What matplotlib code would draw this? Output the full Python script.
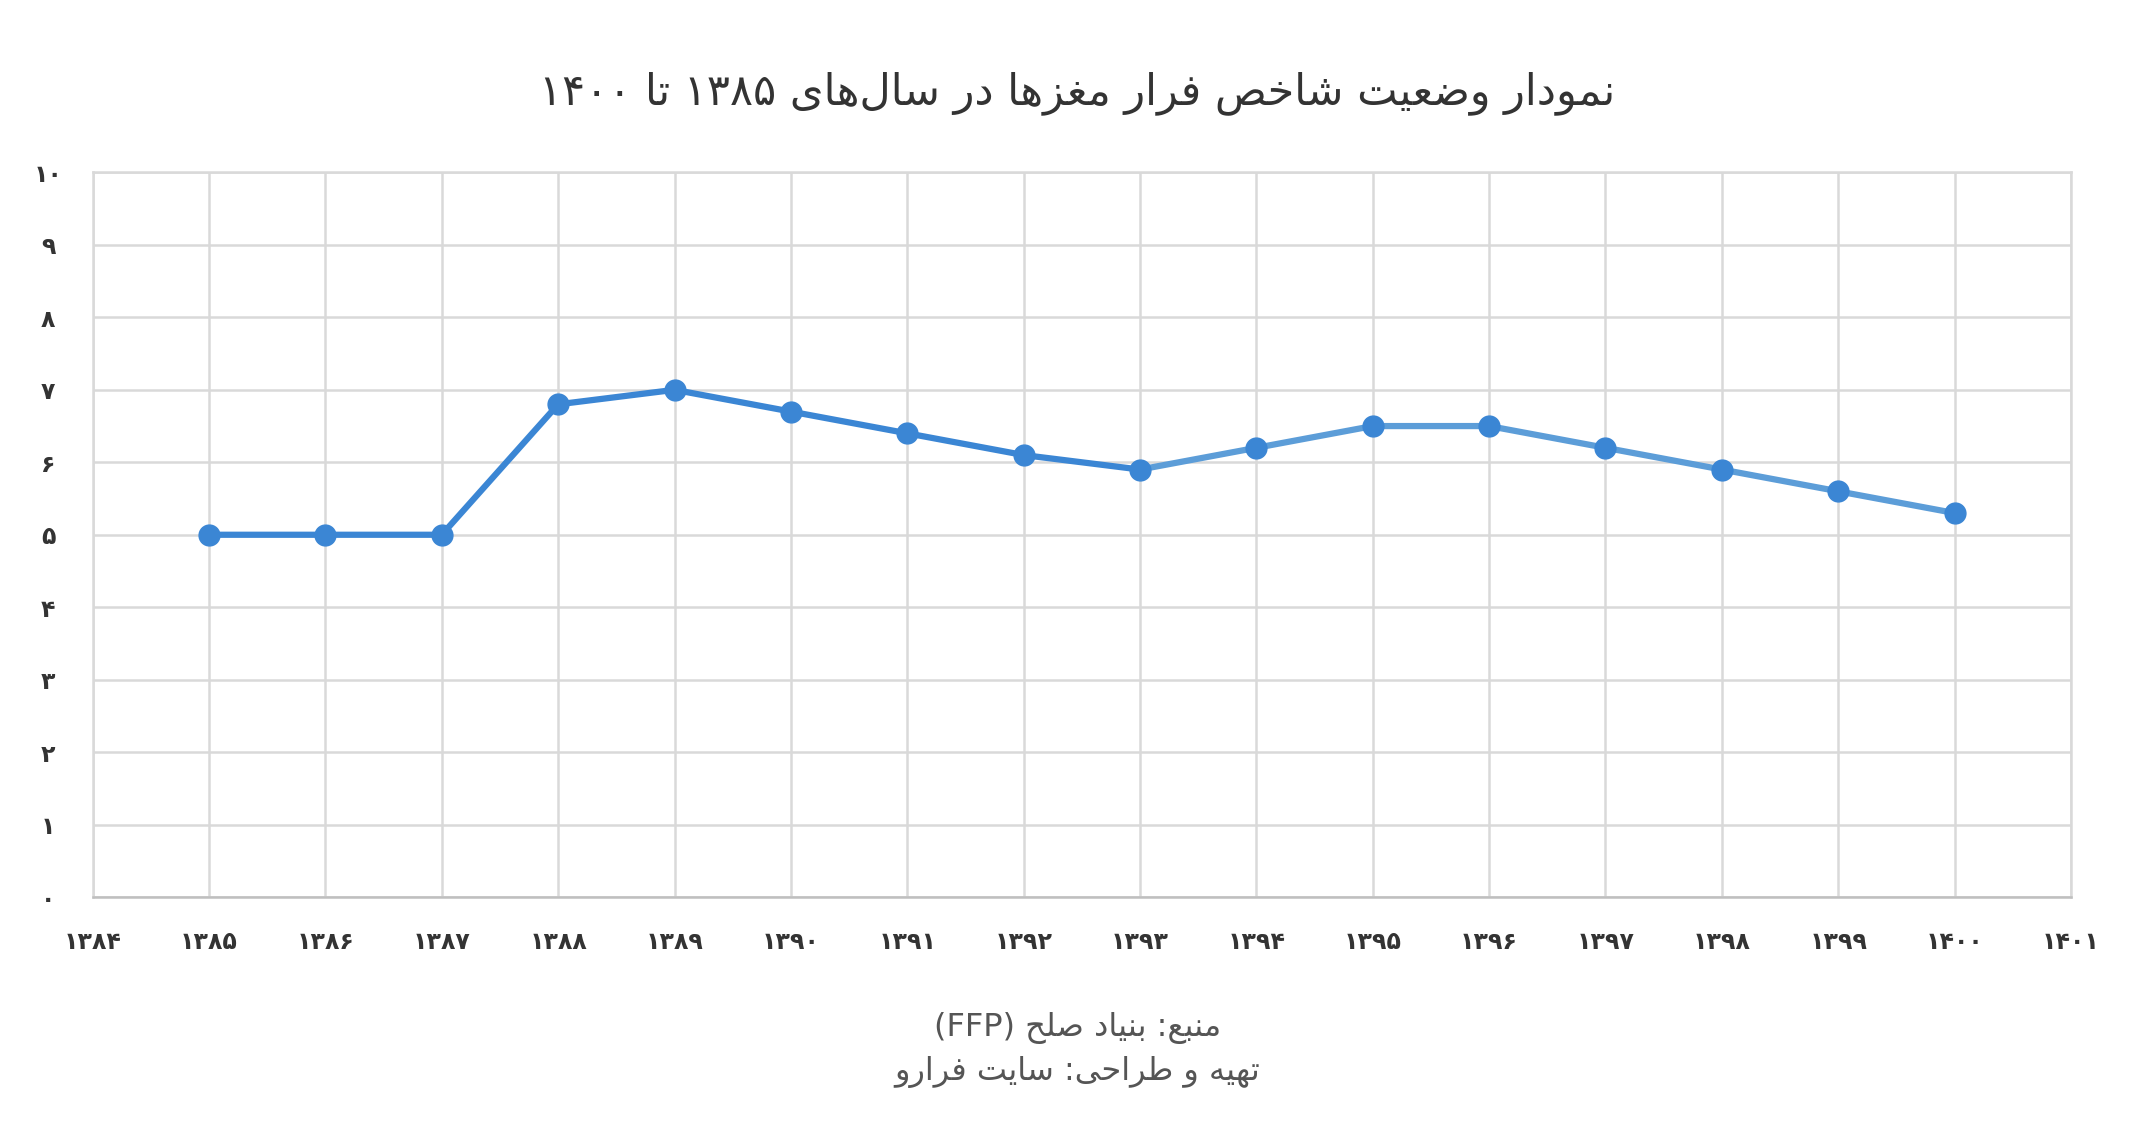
import re
import matplotlib
matplotlib.use("Agg")
import matplotlib.pyplot as plt

# -------------------------------
# Data
# -------------------------------
years = [1385, 1386, 1387, 1388, 1389, 1390, 1391, 1392,
         1393, 1394, 1395, 1396, 1397, 1398, 1399, 1400]
values = [5.0, 5.0, 5.0, 6.8, 7.0, 6.7, 6.4, 6.1,
          5.9, 6.2, 6.5, 6.5, 6.2, 5.9, 5.6, 5.3]
x_ticks = list(range(1384, 1402))
y_ticks = list(range(0, 11))

title = "نمودار وضعیت شاخص فرار مغزها در سال‌های ۱۳۸۵ تا ۱۴۰۰"
source = "منبع: بنیاد صلح (FFP)"
credit = "تهیه و طراحی: سایت فرارو"

# -------------------------------
# Minimal Persian shaping (matplotlib has no RTL layout)
# -------------------------------
FORMS = {  # isolated, final, initial, medial
    "ا": (0xFE8D, 0xFE8E), "د": (0xFEA9, 0xFEAA), "ر": (0xFEAD, 0xFEAE),
    "ز": (0xFEAF, 0xFEB0), "و": (0xFEED, 0xFEEE),
    "ب": (0xFE8F, 0xFE90, 0xFE91, 0xFE92), "ت": (0xFE95, 0xFE96, 0xFE97, 0xFE98),
    "ح": (0xFEA1, 0xFEA2, 0xFEA3, 0xFEA4), "خ": (0xFEA5, 0xFEA6, 0xFEA7, 0xFEA8),
    "س": (0xFEB1, 0xFEB2, 0xFEB3, 0xFEB4), "ش": (0xFEB5, 0xFEB6, 0xFEB7, 0xFEB8),
    "ص": (0xFEB9, 0xFEBA, 0xFEBB, 0xFEBC), "ض": (0xFEBD, 0xFEBE, 0xFEBF, 0xFEC0),
    "ط": (0xFEC1, 0xFEC2, 0xFEC3, 0xFEC4), "ع": (0xFEC9, 0xFECA, 0xFECB, 0xFECC),
    "غ": (0xFECD, 0xFECE, 0xFECF, 0xFED0), "ف": (0xFED1, 0xFED2, 0xFED3, 0xFED4),
    "ل": (0xFEDD, 0xFEDE, 0xFEDF, 0xFEE0), "م": (0xFEE1, 0xFEE2, 0xFEE3, 0xFEE4),
    "ن": (0xFEE5, 0xFEE6, 0xFEE7, 0xFEE8), "ه": (0xFEE9, 0xFEEA, 0xFEEB, 0xFEEC),
    "ی": (0xFBFC, 0xFBFD, 0xFBFE, 0xFBFF),
}


def fa(text):
    chars = list(text)
    out = []
    i = 0
    while i < len(chars):
        c = chars[i]
        if c not in FORMS:
            if c != "\u200c":
                out.append(c)
            i += 1
            continue
        prev = chars[i - 1] if i > 0 else ""
        joins_prev = prev in FORMS and len(FORMS[prev]) == 4
        # lam-alef ligature
        if c == "ل" and i + 1 < len(chars) and chars[i + 1] == "ا":
            out.append(chr(0xFEFC if joins_prev else 0xFEFB))
            i += 2
            continue
        nxt = chars[i + 1] if i + 1 < len(chars) else ""
        joins_next = len(FORMS[c]) == 4 and nxt in FORMS
        f = FORMS[c]
        if joins_prev and joins_next:
            out.append(chr(f[3]))
        elif joins_prev:
            out.append(chr(f[1]))
        elif joins_next:
            out.append(chr(f[2]))
        else:
            out.append(chr(f[0]))
        i += 1
    vis = "".join(reversed(out))
    vis = re.sub(r"[A-Za-z0-9\u06F0-\u06F9]+", lambda m: m.group(0)[::-1], vis)
    vis = vis.translate(str.maketrans("()", ")("))
    return vis


def fa_digits(n):
    return str(n).translate(str.maketrans("0123456789", "۰۱۲۳۴۵۶۷۸۹"))


# -------------------------------
# Plot
# -------------------------------
plt.rcParams["font.family"] = "DejaVu Sans"
fig = plt.figure(figsize=(21.55, 11.27), dpi=100)
ax = fig.add_axes([0.043, 0.204, 0.918, 0.643])

split = years.index(1393)
ax.plot(years[:split + 1], values[:split + 1], color="#3b86d4", lw=4.5, zorder=3)
ax.plot(years[split:], values[split:], color="#5c9dd8", lw=4.5, zorder=3)
ax.plot(years, values, "o", color="#3b86d4", ms=15, zorder=4)

ax.set_xlim(1384, 1401)
ax.set_ylim(0, 10)
ax.set_xticks(x_ticks)
ax.set_xticklabels([fa_digits(t) for t in x_ticks], fontsize=17,
                   fontweight="bold", color="#333333")
ax.set_yticks(y_ticks)
ax.set_yticklabels([fa_digits(t) for t in y_ticks], fontsize=17,
                   fontweight="bold", color="#333333")
ax.tick_params(length=0, pad=24)
ax.tick_params(axis="y", pad=32)
for lbl in ax.get_yticklabels():
    lbl.set_horizontalalignment("center")
ax.grid(True, color="#d9d9d9", lw=1.8)
for s in ax.spines.values():
    s.set_color("#d9d9d9")
    s.set_linewidth(1.8)
ax.spines["bottom"].set_color("#bfbfbf")

fig.text(0.5, 0.917, fa(title), ha="center", va="center", fontsize=31, color="#333333")
fig.text(0.5, 0.088, fa(source), ha="center", va="center", fontsize=23, color="#555555")
fig.text(0.5, 0.049, fa(credit), ha="center", va="center", fontsize=23, color="#555555")

fig.savefig("out.png", dpi=100)
